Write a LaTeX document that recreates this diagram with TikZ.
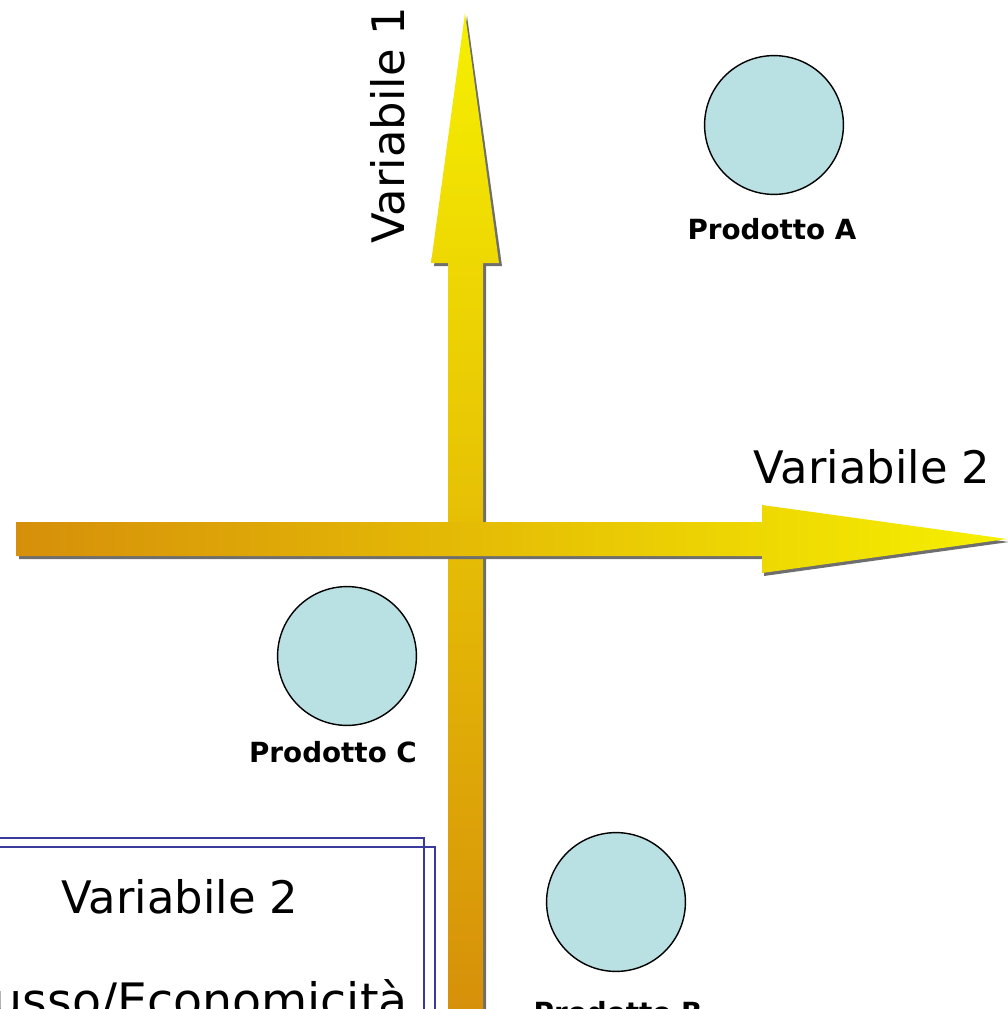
\documentclass[tikz,border=0pt]{standalone}
\usepackage{fontspec}
\setmainfont{DejaVu Sans}
\usepackage{xcolor}
\definecolor{cAxisLo}{HTML}{D68F0A}
\definecolor{cAxisMid}{HTML}{E4BE0A}
\definecolor{cAxisHi}{HTML}{F6F000}
\definecolor{cShadow}{HTML}{6E6E6E}
\definecolor{cProd}{HTML}{B9E0E3}
\definecolor{cFrame}{HTML}{3A3A9C}
\usepackage{tikz}
\usetikzlibrary{positioning}
\tikzset{
  prod-circle/.style={draw=black,line width=0.8pt,circle,fill=cProd,
    minimum size=79pt,inner sep=0pt},
  prod-label/.style={font=\bfseries\fontsize{15.8}{19}\selectfont,inner sep=0pt},
  axis-label/.style={font=\fontsize{25.5}{30}\selectfont,inner sep=0pt},
  axis-shadow/.style={fill=cShadow},
  frame-line/.style={draw=cFrame,line width=1pt},
}

\begin{document}
\begin{tikzpicture}[x=0.2mm,y=-0.2mm]
  \useasboundingbox (0,0) rectangle (1007,1009);

  % vertical axis: Variabile 1
  \fill[axis-shadow] (451,1020) -- (451,266) -- (434,266) -- (467,16)
    -- (502,266) -- (486,266) -- (486,1020) -- cycle;
  \shade[top color=cAxisHi,middle color=cAxisMid,bottom color=cAxisLo]
    (448,1020) -- (448,263) -- (431,263) -- (465,13) -- (499,263)
    -- (483,263) -- (483,1020) -- cycle;

  % horizontal axis: Variabile 2
  \fill[axis-shadow] (19,559) -- (19,525) -- (764,525) -- (764,508)
    -- (1009,542) -- (764,576) -- (764,559) -- cycle;
  \shade[left color=cAxisLo,middle color=cAxisMid!70!cAxisHi,right color=cAxisHi]
    (16,522) -- (762,522) -- (762,505) -- (1007,539) -- (762,573)
    -- (762,556) -- (16,556) -- cycle;

  \node[axis-label,rotate=90] (var1) at (388,125) {Variabile 1};
  \node[axis-label] (var2) at (872,467) {Variabile 2};

  % products
  \node[prod-circle] (pA) at (774,125) {};
  \node[prod-label] (lA) at (772,229) {Prodotto A};
  \node[prod-circle] (pC) at (347,656) {};
  \node[prod-label] (lC) at (333,752) {Prodotto C};
  \node[prod-circle] (pB) at (616,902) {};
  \node[prod-label] (lB) at (618,1012) {Prodotto B};

  % legend box
  \draw[frame-line] (-30,847) -- (435,847) -- (435,1040);
  \draw[frame-line] (-30,838) -- (424,838) -- (424,1040);
  \node[axis-label] (legend) at (180,897) {Variabile 2};
  \node[axis-label,font=\fontsize{27}{32}\selectfont,anchor=base east]
    (legend-val) at (408,1017) {Lusso/Economicità};
\end{tikzpicture}
\end{document}
